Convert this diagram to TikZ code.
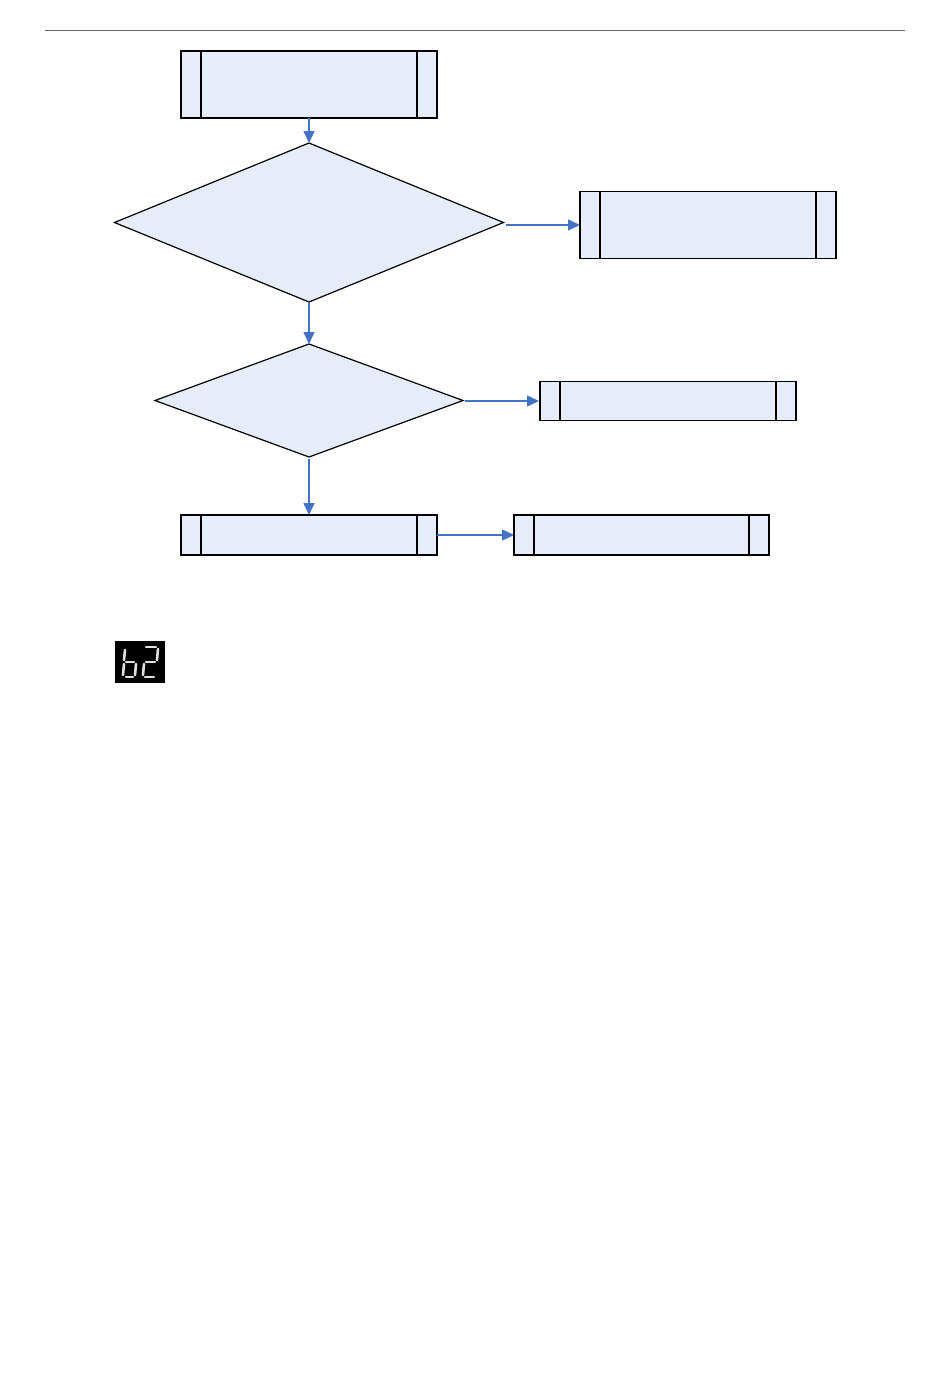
\documentclass[tikz,border=0pt]{standalone}
\usetikzlibrary{shapes.geometric,arrows.meta}
\definecolor{boxfill}{HTML}{E6EDF8}
\definecolor{arrowblue}{HTML}{4472C4}
\tikzset{
  procbox/.style={draw=black, line width=1.4pt, fill=boxfill, rectangle, inner sep=0pt, outer sep=0pt,
    minimum width=256pt, minimum height=#1,
    path picture={
      \draw[line width=1.4pt] ([xshift=20pt]path picture bounding box.north west) -- ([xshift=20pt]path picture bounding box.south west);
      \draw[line width=1.4pt] ([xshift=-20pt]path picture bounding box.north east) -- ([xshift=-20pt]path picture bounding box.south east);
    }},
  decision/.style={draw=black, line width=1.2pt, fill=boxfill, diamond, inner sep=0pt, outer sep=0pt},
  flow/.style={draw=arrowblue, line width=1.5pt, -{Triangle[length=12pt,width=11pt]}},
  seg/.style={draw=white!88!black, line width=2.6pt, line cap=round}
}
\begin{document}
\begin{tikzpicture}[x=1pt,y=-1pt]
\useasboundingbox (0,0) rectangle (950,1387);
% header rule
\coordinate (r1) at (45,30);
\coordinate (r2) at (905,30);
\draw[gray!80!black, line width=1pt] (r1) -- (r2);
% nodes
\node[procbox=67pt] (b1) at (309,84.5) {};
\node[decision, minimum width=389pt, minimum height=159pt] (d1) at (309,222.5) {};
\node[procbox=67pt] (b2) at (708,225) {};
\node[decision, minimum width=308pt, minimum height=113pt] (d2) at (309,400.5) {};
\node[procbox=39pt] (b3) at (668,401) {};
\node[procbox=40pt] (b4) at (309,535) {};
\node[procbox=40pt, minimum width=255pt] (b5) at (641.5,535) {};
% connectors
\draw[flow] ([xshift=0pt]b1.south) -- (d1.north);
\draw[flow] ([xshift=2pt]d1.east |- b2.west) -- (b2.west);
\draw[flow] (d1.south) -- (d2.north);
\draw[flow] ([xshift=2pt]d2.east |- b3.west) -- ([xshift=-1pt]b3.west);
\draw[flow] ([yshift=-2pt]d2.south) -- (b4.north);
\draw[flow] (b4.east |- b5.west) -- (b5.west);
% b2 display
\node[fill=black, minimum width=50pt, minimum height=42pt, inner sep=0pt] (disp) at (140,662) {};
\begin{scope}[shift={(disp.center)}]
  % b
  \draw[seg] (-15,-12) -- (-16,-2);
  \draw[seg] (-16,2) -- (-17,13);
  \draw[seg] (-14,0) -- (-6,0);
  \draw[seg] (-14,15) -- (-7,15);
  \draw[seg] (-4,2) -- (-5,13);
  % 2
  \draw[seg] (6,-15) -- (16,-15);
  \draw[seg] (18,-13) -- (17,-2);
  \draw[seg] (6,0) -- (15,0);
  \draw[seg] (4,2) -- (3,13);
  \draw[seg] (5,15) -- (14,15);
\end{scope}
\end{tikzpicture}
\end{document}
